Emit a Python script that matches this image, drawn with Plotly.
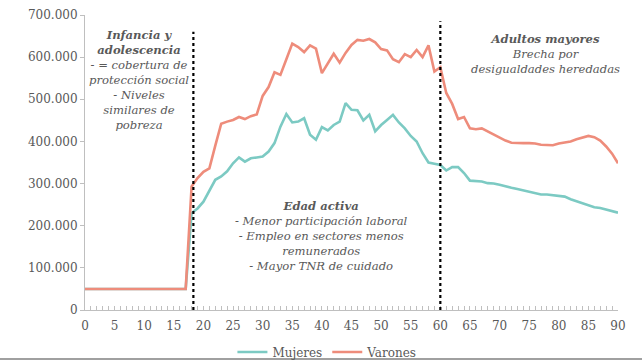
import plotly.graph_objects as go

ages = list(range(0, 91))

mujeres = [50000]*18 + [
    230000, 241000, 257000, 285000, 309000, 317000, 329000, 348000, 362000, 352000,  # 18-27
    360000, 362000, 364000, 376000, 396000, 435000, 465000, 445000, 447000, 455000,  # 28-37
    416000, 404000, 434000, 426000, 439000, 447000, 491000, 475000, 474000, 450000,  # 38-47
    463000, 424000, 439000, 451000, 463000, 445000, 431000, 413000, 400000, 372000,  # 48-57
    350000, 347000, 344000, 331000, 339000, 339000, 325000, 307000, 306000, 305000,  # 58-67
    301000, 300000, 297000, 293000, 290000, 287000, 284000, 280000, 277000, 274000,  # 68-77
    274000, 272000, 271000, 269000, 263000, 258000, 253000, 248000, 244000, 242000,  # 78-87
    238000, 235000, 231000]                                                          # 88-90

varones = [50000]*18 + [
    293000, 313000, 328000, 336000, 390000, 442000, 447000, 451000, 458000, 453000,  # 18-27
    460000, 464000, 508000, 529000, 564000, 558000, 595000, 632000, 624000, 612000,  # 28-37
    628000, 620000, 562000, 586000, 608000, 587000, 610000, 629000, 641000, 639000,  # 38-47
    643000, 635000, 619000, 616000, 595000, 588000, 607000, 600000, 617000, 600000,  # 48-57
    628000, 566000, 576000, 515000, 489000, 453000, 458000, 431000, 429000, 431000,  # 58-67
    424000, 416000, 409000, 402000, 397000, 396000, 396000, 396000, 395000, 392000,  # 68-77
    391000, 391000, 395000, 397000, 400000, 405000, 409000, 413000, 410000, 402000,  # 78-87
    388000, 371000, 348000]                                                          # 88-90

x_ticks = list(range(0, 91, 5))
y_ticks = list(range(0, 700001, 100000))
dividers = [18.3, 60]
divider_tops = [660000, 685000]

serif = "DejaVu Serif"
gray = "#595959"

fig = go.Figure()
fig.add_trace(go.Scatter(x=ages, y=mujeres, mode="lines", name="Mujeres",
                         line=dict(color="#7CCAC3", width=2.6)))
fig.add_trace(go.Scatter(x=ages, y=varones, mode="lines", name="Varones",
                         line=dict(color="#EE8C7B", width=2.6)))

for xd, top in zip(dividers, divider_tops):
    fig.add_shape(type="line", x0=xd, x1=xd, y0=0, y1=top, xref="x", yref="y",
                  line=dict(color="black", width=2.2, dash="dot"))

# bottom frame line
fig.add_shape(type="line", xref="paper", yref="paper", x0=-0.2, x1=1.1,
              y0=-0.166, y1=-0.166, line=dict(color="#808080", width=1.5))

ann_font = dict(family=serif, size=11.6, color=gray)
fig.add_annotation(x=9.2, y=674000, xref="x", yref="y", yanchor="top", showarrow=False,
                   align="center", font=ann_font,
                   text="<b><i>Infancia y<br>adolescencia</i></b><br><i>- = cobertura de<br>protección social<br>- Niveles<br>similares de<br>pobreza</i>")
fig.add_annotation(x=40, y=176000, xref="x", yref="y", yanchor="middle", showarrow=False,
                   align="center", font=ann_font,
                   text="<b><i>Edad activa</i></b><br><i>- Menor participación laboral<br>- Empleo en sectores menos<br>remunerados<br>- Mayor TNR de cuidado</i>")
fig.add_annotation(x=77.8, y=665000, xref="x", yref="y", yanchor="top", showarrow=False,
                   align="center", font=ann_font,
                   text="<b><i>Adultos mayores</i></b><br><i>Brecha por<br>desigualdades heredadas</i>")

fig.update_layout(
    width=642, height=361,
    margin=dict(l=85, r=24, t=15, b=51, autoexpand=False),
    paper_bgcolor="white", plot_bgcolor="white",
    separators=",.",
    font=dict(family=serif, size=12, color=gray),
    showlegend=True,
    legend=dict(orientation="h", xref="container", yref="container",
                x=0.51, xanchor="center", y=0.025, yanchor="middle",
                font=dict(family=serif, size=12, color=gray), itemwidth=30,
                bgcolor="rgba(0,0,0,0)"),
    xaxis=dict(range=[0, 90], tickvals=x_ticks, showgrid=False, zeroline=False,
               automargin=False,
               showline=True, linecolor="#BFBFBF", linewidth=1,
               ticks="inside", ticklen=4, tickcolor="#BFBFBF", ticklabelstandoff=5,
               minor=dict(dtick=1, ticks="inside", ticklen=4, tickcolor="#BFBFBF"),
               tickfont=dict(family=serif, size=12, color=gray)),
    yaxis=dict(range=[0, 700000], tickvals=y_ticks, tickformat=",d", showgrid=False,
               zeroline=False, automargin=False, showline=True, linecolor="#BFBFBF", linewidth=1,
               ticks="outside", ticklen=4, tickcolor="#BFBFBF",
               tickfont=dict(family=serif, size=12, color=gray)),
)

fig.write_html("out.html", config={"displayModeBar": False},
               post_script="document.body.style.margin='0';document.body.style.overflow='hidden';")
